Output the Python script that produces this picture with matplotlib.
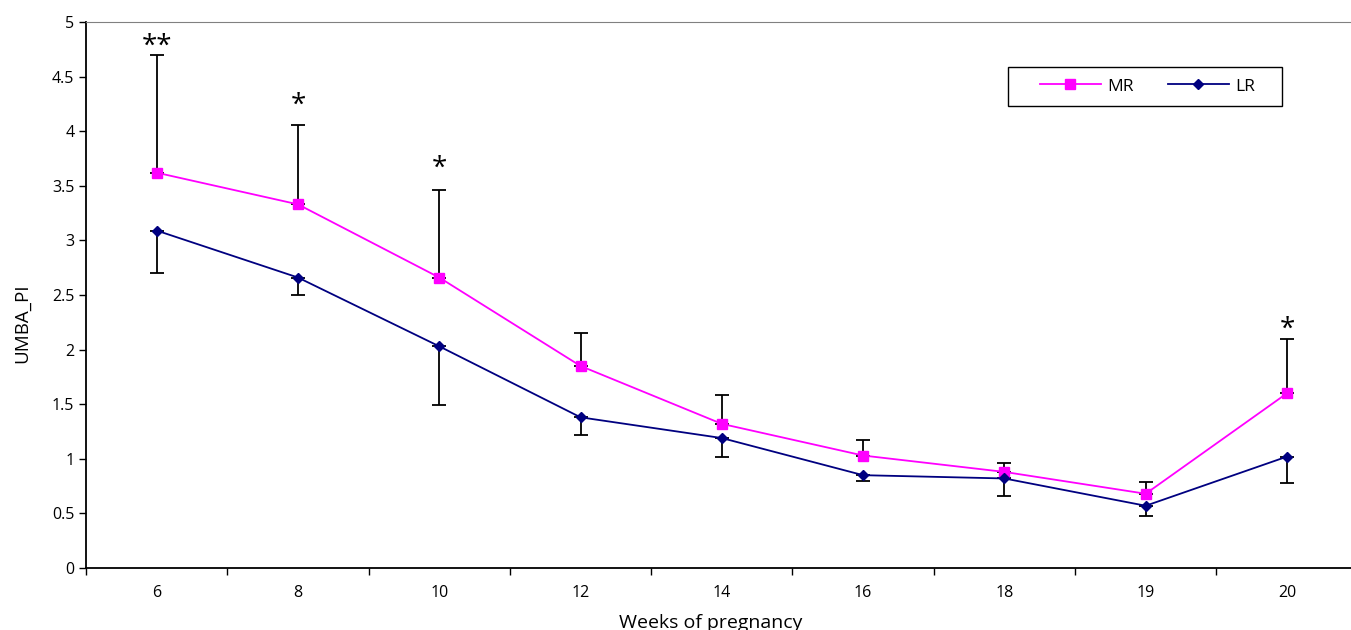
import numpy as np
import matplotlib.pyplot as plt
from matplotlib.patches import Rectangle

plt.rcParams['font.family'] = ['Open Sans', 'DejaVu Sans']

# weeks of pregnancy (categorical axis)
weeks = ['6', '8', '10', '12', '14', '16', '18', '19', '20']

# MR group: mean and upper error
mr_mean = [3.62, 3.33, 2.66, 1.85, 1.32, 1.03, 0.88, 0.68, 1.60]
mr_err = [1.08, 0.73, 0.80, 0.30, 0.26, 0.14, 0.08, 0.11, 0.50]

# LR group: mean and lower error
lr_mean = [3.09, 2.66, 2.03, 1.38, 1.19, 0.85, 0.82, 0.57, 1.02]
lr_err = [0.39, 0.16, 0.54, 0.16, 0.17, 0.05, 0.16, 0.09, 0.24]

# significance marks
sig_idx = [0, 1, 2, 8]
sig_txt = ['**', '*', '*', '*']
sig_y = [4.77, 4.23, 3.66, 2.18]

x = np.arange(len(weeks))

fig = plt.figure(figsize=(13.51, 6.30), dpi=100)
ax = fig.add_axes([0.0637, 0.0984, 0.9412, 0.8667])

ax.errorbar(x, mr_mean, yerr=[np.zeros(len(x)), mr_err], fmt='none',
            ecolor='black', elinewidth=1.3, capsize=4.8, capthick=1.3, zorder=2)
ax.errorbar(x, lr_mean, yerr=[lr_err, np.zeros(len(x))], fmt='none',
            ecolor='black', elinewidth=1.3, capsize=4.8, capthick=1.3, zorder=2)

ax.plot(x, mr_mean, color='#FF00FF', marker='s', markersize=6.5, lw=1.3,
        label='MR', zorder=3)
ax.plot(x, lr_mean, color='#000080', marker='D', markersize=5, lw=1.3,
        label='LR', zorder=3)

for i, t, yy in zip(sig_idx, sig_txt, sig_y):
    ax.text(x[i], yy, t, ha='center', va='center', fontsize=20)

ax.set_xlim(-0.5, len(weeks) - 0.5)
ax.set_ylim(0, 5)
ax.set_yticks(np.arange(0, 5.01, 0.5))
ax.set_yticklabels(['0', '0.5', '1', '1.5', '2', '2.5', '3', '3.5', '4', '4.5', '5'])
ax.set_xticks(np.arange(-0.5, len(weeks), 1.0))
ax.set_xticklabels([])
ax.set_xticks(x, minor=True)
ax.set_xticklabels(weeks, minor=True)
ax.tick_params(axis='x', which='major', length=5, width=1, direction='out')
ax.tick_params(axis='x', which='minor', length=0, pad=12)
ax.tick_params(axis='y', length=5, width=1, direction='out')
ax.tick_params(which='both', labelsize=11.5)

ax.spines['right'].set_visible(False)
ax.spines['top'].set_color('#808080')
ax.spines['left'].set_linewidth(1.3)
ax.spines['bottom'].set_linewidth(1.3)

ax.set_xlabel('Weeks of pregnancy', fontsize=14)
ax.set_ylabel('UMBA_PI', fontsize=13.5)
ax.xaxis.set_label_coords(0.4915, -0.084)
ax.yaxis.set_label_coords(-0.043, 0.449)

# legend box drawn separately (Excel style padding)
ax.add_patch(Rectangle((0.7251, 0.8462), 0.2155, 0.0714, transform=ax.transAxes,
                       facecolor='white', edgecolor='black', lw=1.0, zorder=4))
leg = ax.legend(loc='center left', bbox_to_anchor=(0.7502, 0.8819), ncol=2,
                frameon=False, fontsize=12.5, handlelength=3.5,
                handletextpad=0.35, columnspacing=2.0, borderpad=0,
                borderaxespad=0)
leg.set_zorder(5)

fig.savefig('out.png', dpi=100)
